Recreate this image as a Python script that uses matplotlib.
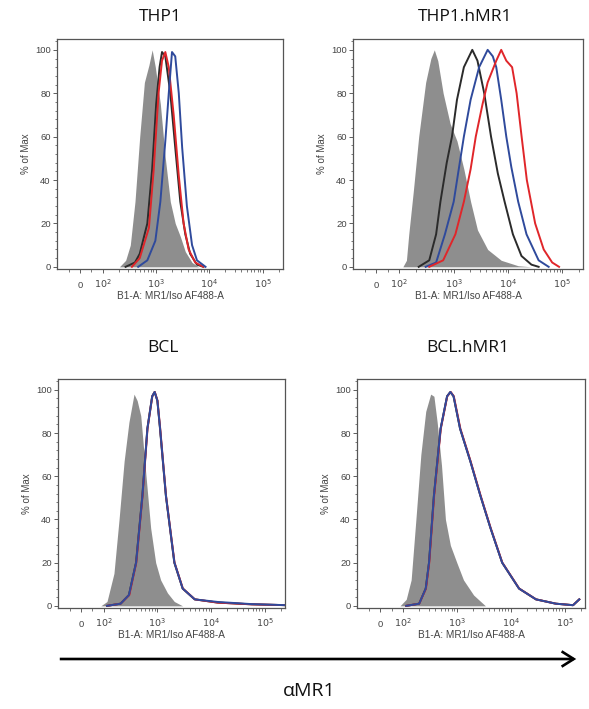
import matplotlib
matplotlib.use('Agg')
import matplotlib.pyplot as plt
from matplotlib.ticker import FixedLocator, AutoMinorLocator

import numpy as np

# ------------------------------ data ---------------------------------------
# fluorescence intensity (B1-A) vs % of max

# THP1
thp1_iso_x = [207, 271, 331, 405, 497, 608, 740, 850, 975, 1210, 1500, 1860, 2300, 2860, 3550, 4750, 6300]
thp1_iso_y = [0, 3, 10, 30, 60, 85, 93, 100, 92, 75, 50, 30, 20, 14, 7, 2, 0]
thp1_blk_x = [270, 405, 497, 690, 850, 1010, 1170, 1300, 1500, 1860, 2300, 2860, 3550, 4380, 5870, 7760]
thp1_blk_y = [0, 2, 6, 20, 45, 75, 92, 99, 97, 80, 55, 30, 15, 6, 1, 0]
thp1_red_x = [355, 497, 740, 910, 1120, 1300, 1500, 1740, 2150, 2680, 3300, 4100, 5450, 7760]
thp1_red_y = [0, 4, 18, 45, 80, 95, 99, 92, 70, 42, 20, 8, 2, 0]
thp1_blu_x = [465, 690, 975, 1210, 1500, 1740, 2000, 2300, 2680, 3100, 3800, 4750, 5870, 8500]
thp1_blu_y = [0, 3, 12, 30, 58, 80, 99, 97, 80, 55, 28, 10, 3, 0]

# THP1.hMR1
hmr_iso_x = [116, 135, 149, 181, 227, 305, 380, 440, 510, 640, 860, 1150, 1540, 2050, 2740, 4220, 7500, 15400, 27000]
hmr_iso_y = [0, 3, 15, 35, 60, 85, 96, 100, 95, 80, 66, 58, 45, 30, 17, 8, 3, 0.5, 0]
hmr_blk_x = [227, 355, 475, 570, 745, 930, 1150, 1540, 2200, 2740, 3650, 4870, 6500, 8660, 12300, 17700, 27000, 36600]
hmr_blk_y = [0, 3, 15, 30, 48, 60, 77, 92, 100, 95, 80, 60, 43, 30, 15, 5, 1, 0]
hmr_blu_x = [305, 475, 690, 1000, 1240, 1540, 2050, 2940, 4220, 5250, 6080, 7500, 9300, 11500, 15400, 21900, 36600, 56000]
hmr_blu_y = [0, 2, 15, 30, 45, 60, 77, 92, 100, 97, 92, 77, 60, 46, 30, 15, 3, 0]
hmr_red_x = [355, 640, 1075, 1540, 2050, 2550, 3400, 4220, 6080, 7500, 9300, 11900, 14400, 17800, 22200, 31600, 45400, 65000, 87000]
hmr_red_y = [0, 3, 15, 30, 45, 60, 75, 85, 95, 100, 95, 92, 80, 60, 40, 20, 8, 2, 0]

# BCL
bcl_iso_x = [87, 115, 155, 193, 240, 295, 367, 420, 490, 580, 750, 930, 1150, 1540, 2070, 2950]
bcl_iso_y = [0, 2, 15, 40, 67, 85, 98, 95, 88, 67, 36, 20, 12, 6, 2, 0]
bcl_blk_x = [115, 206, 295, 400, 525, 650, 800, 890, 1000, 1120, 1440, 2070, 2960, 4970, 13300, 57000, 260000]
bcl_blk_y = [0, 1, 5, 20, 51, 82, 97, 99, 95, 82, 51, 20, 8, 3, 1.5, 0.7, 0.3]
bcl_red_x = [115, 206, 300, 405, 530, 655, 805, 895, 1005, 1130, 1450, 2090, 2990, 5000, 13300, 57000, 260000]
bcl_red_y = [0, 1, 5, 20, 51, 82, 97, 99, 95, 82, 51, 20, 8, 3, 1.5, 0.7, 0.3]
bcl_blu_x = [115, 206, 295, 402, 527, 652, 802, 890, 1000, 1125, 1445, 2080, 2970, 4980, 13300, 57000, 260000]
bcl_blu_y = [0, 1, 5, 20, 51, 82, 97, 99, 95, 82, 51, 20, 8, 3, 1.8, 0.8, 0.3]

# BCL.hMR1
bclh_iso_x = [87, 115, 142, 174, 215, 265, 327, 376, 432, 520, 615, 760, 1000, 1330, 2050, 3400]
bclh_iso_y = [0, 3, 12, 40, 70, 90, 98, 97, 85, 65, 40, 28, 20, 12, 5, 0]
bclh_blk_x = [115, 200, 265, 305, 376, 500, 660, 760, 870, 1150, 1780, 2740, 4220, 6950, 14300, 29500, 69000, 144000, 188000]
bclh_blk_y = [0, 1, 8, 20, 51, 82, 97, 99, 97, 82, 67, 51, 36, 20, 8, 3, 1, 0.3, 3]
bclh_red_x = [115, 200, 268, 308, 380, 505, 665, 770, 880, 1165, 1800, 2770, 4260, 7000, 14400, 29600, 69000, 144000, 188000]
bclh_red_y = [0, 1, 8, 20, 51, 82, 97, 99, 97, 82, 67, 51, 36, 20, 8, 3, 1, 0.3, 3]
bclh_blu_x = [115, 200, 265, 305, 376, 500, 660, 760, 870, 1150, 1780, 2740, 4220, 6950, 14300, 29500, 69000, 144000, 188000]
bclh_blu_y = [0, 1, 8, 20, 51, 82, 97, 99, 97, 82, 67, 51, 36, 20, 8, 3, 1, 0.3, 3]

panel_titles = ['THP1', 'THP1.hMR1', 'BCL', 'BCL.hMR1']
xtick_vals = [0, 100, 1000, 10000, 100000]
xtick_labels = ['0', '$10^2$', '$10^3$', '$10^4$', '$10^5$']
ytick_vals = [0, 20, 40, 60, 80, 100]

# ------------------------------ plot ---------------------------------------
W, H = 589, 709
fig = plt.figure(figsize=(W / 100, H / 100), dpi=100)

def px_box(l, t, r, b):
    return [l / W, 1 - b / H, (r - l) / W, (b - t) / H]

_boxes = [px_box(57, 39, 283, 269), px_box(353, 39, 583, 269),
          px_box(58, 379, 285, 608), px_box(357, 379, 585, 608)]
_title_xy = [(160, 17), (465, 17), (163, 348), (468, 348)]

panels = [
    (thp1_iso_x, thp1_iso_y, [(thp1_blk_x, thp1_blk_y, '#2b2b2b'), (thp1_red_x, thp1_red_y, '#e0262a'), (thp1_blu_x, thp1_blu_y, '#2f4a9c')]),
    (hmr_iso_x, hmr_iso_y, [(hmr_blk_x, hmr_blk_y, '#2b2b2b'), (hmr_blu_x, hmr_blu_y, '#2f4a9c'), (hmr_red_x, hmr_red_y, '#e0262a')]),
    (bcl_iso_x, bcl_iso_y, [(bcl_blk_x, bcl_blk_y, '#2b2b2b'), (bcl_red_x, bcl_red_y, '#e0262a'), (bcl_blu_x, bcl_blu_y, '#2f4a9c')]),
    (bclh_iso_x, bclh_iso_y, [(bclh_blk_x, bclh_blk_y, '#2b2b2b'), (bclh_red_x, bclh_red_y, '#e0262a'), (bclh_blu_x, bclh_blu_y, '#2f4a9c')]),
]

minor_x = [-50, 50] + [m * 10 ** k for k in (2, 3, 4) for m in range(2, 10)] + [200000]

for i, (iso_x, iso_y, lines) in enumerate(panels):
    ax = fig.add_axes(_boxes[i])
    ax.set_xscale('symlog', linthresh=100, linscale=0.38)
    ax.fill_between(iso_x, iso_y, 0, color='#8e8e8e', lw=0, zorder=1)
    for lx, ly, c in lines:
        ax.plot(lx, ly, color=c, lw=1.4, zorder=2)
    ax.set_xlim(-102, 240000)
    ax.set_ylim(-1, 105)
    #
    ax.xaxis.set_major_locator(FixedLocator(xtick_vals))
    ax.xaxis.set_minor_locator(FixedLocator(minor_x))
    ax.set_xticklabels(xtick_labels)
    ax.set_yticks(ytick_vals)
    ax.yaxis.set_minor_locator(AutoMinorLocator(5))
    ax.tick_params(axis='both', which='major', labelsize=6.8, colors='#444444',
                   length=3, width=0.6, pad=1.5)
    ax.tick_params(axis='both', which='minor', length=1.8, width=0.5, colors='#444444')
    ax.tick_params(axis='x', which='major', pad=10.5)
    for lab in ax.get_xticklabels():
        lab.set_verticalalignment('baseline')
    for s in ax.spines.values():
        s.set_color('#555555')
        s.set_linewidth(0.9)
    ax.set_ylabel('% of Max', fontsize=7, color='#444444', labelpad=3)
    ax.set_xlabel('B1-A: MR1/Iso AF488-A', fontsize=7.2, color='#444444', labelpad=1)
    for lab in ax.get_xticklabels() + ax.get_yticklabels():
        lab.set_family('Liberation Sans')
    ax.xaxis.label.set_family('Liberation Sans')
    ax.yaxis.label.set_family('Liberation Sans')
    #
    tx, ty = _title_xy[i]
    fig.text(tx / W, 1 - ty / H, panel_titles[i], ha='center', va='center',
             fontsize=12.5, family='Open Sans', color='#111111')

# arrow and axis title
fig.add_artist(matplotlib.patches.FancyArrowPatch(
    (57 / W, 1 - 659 / H), (579 / W, 1 - 659 / H), transform=fig.transFigure,
    arrowstyle='->,head_length=3.5,head_width=2.2', color='black', lw=1.9,
    mutation_scale=2.5, capstyle='butt', joinstyle='miter'))
fig.text(309 / W, 1 - 691 / H, '\u03b1MR1', ha='center', va='center',
         fontsize=14, family='Open Sans', color='#111111')

fig.savefig('out.png', dpi=100)
